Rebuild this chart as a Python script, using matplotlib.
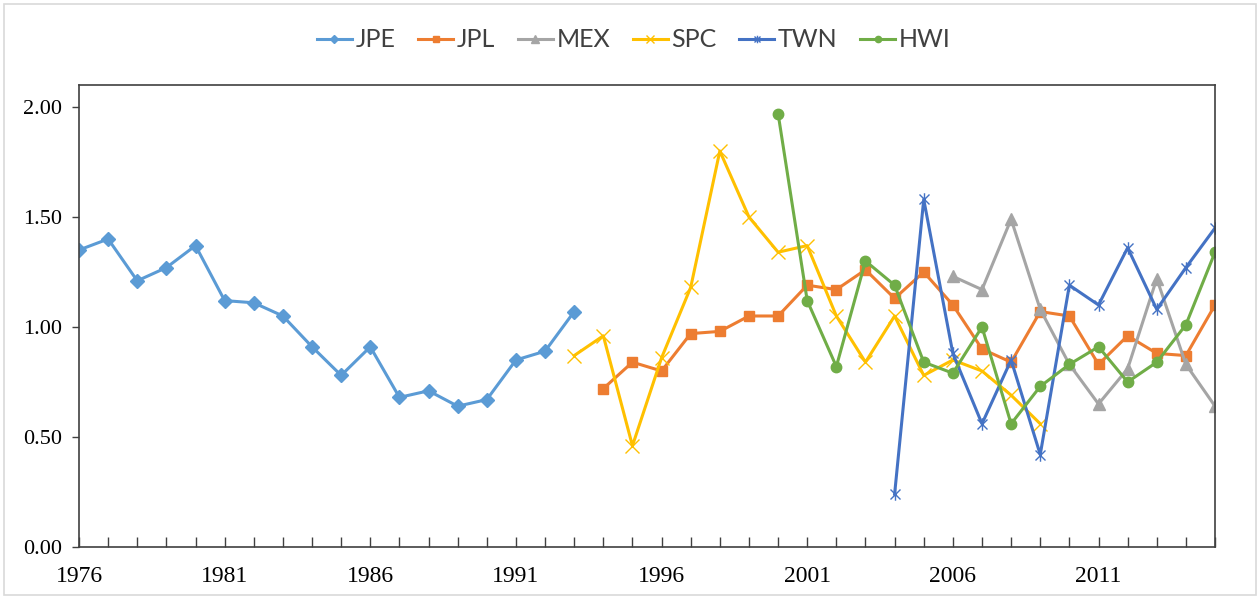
import matplotlib
matplotlib.use("Agg")
import matplotlib.pyplot as plt
from matplotlib.path import Path
import numpy as np

# ---- data ----
jpe_years = list(range(1976, 1994))
jpe = [1.35, 1.40, 1.21, 1.27, 1.37, 1.12, 1.11, 1.05, 0.91, 0.78, 0.91, 0.68,
       0.71, 0.64, 0.67, 0.85, 0.89, 1.07]

jpl_years = list(range(1994, 2016))
jpl = [0.72, 0.84, 0.80, 0.97, 0.98, 1.05, 1.05, 1.19, 1.17, 1.26, 1.13, 1.25,
       1.10, 0.90, 0.84, 1.07, 1.05, 0.83, 0.96, 0.88, 0.87, 1.10]

mex_years = list(range(2006, 2016))
mex = [1.23, 1.17, 1.49, 1.08, 0.83, 0.65, 0.81, 1.22, 0.83, 0.64]

spc_years = list(range(1993, 2010))
spc = [0.87, 0.96, 0.46, 0.86, 1.18, 1.80, 1.50, 1.34, 1.37, 1.05, 0.84, 1.05,
       0.78, 0.85, 0.80, 0.69, 0.56]

twn_years = list(range(2004, 2016))
twn = [0.24, 1.58, 0.88, 0.56, 0.85, 0.42, 1.19, 1.10, 1.36, 1.08, 1.27, 1.45]

hwi_years = list(range(2000, 2016))
hwi = [1.97, 1.12, 0.82, 1.30, 1.19, 0.84, 0.79, 1.00, 0.56, 0.73, 0.83, 0.91,
       0.75, 0.84, 1.01, 1.34]

x_labels = [1976, 1981, 1986, 1991, 1996, 2001, 2006, 2011]
y_ticks = [0.0, 0.5, 1.0, 1.5, 2.0]

# ---- style ----
star = Path([(-1, -1), (1, 1), (-1, 1), (1, -1), (0, -1.25), (0, 1.25)],
            [Path.MOVETO, Path.LINETO, Path.MOVETO, Path.LINETO, Path.MOVETO, Path.LINETO])

fig = plt.figure(figsize=(12.6, 5.97), dpi=100)
fig.patch.set_facecolor("white")
ax = fig.add_axes([0.0627, 0.0838, 0.9016, 0.7738])

series = [
    ("JPE", jpe_years, jpe, "#5B9BD5", "D", 7.5, {}),
    ("JPL", jpl_years, jpl, "#ED7D31", "s", 7.5, {}),
    ("MEX", mex_years, mex, "#A5A5A5", "^", 8.5, {}),
    ("SPC", spc_years, spc, "#FFC000", "x", 10, {"markeredgewidth": 1.0}),
    ("TWN", twn_years, twn, "#4472C4", star, 9, {"markeredgewidth": 1.0}),
    ("HWI", hwi_years, hwi, "#70AD47", "o", 7.5, {}),
]

handles = []
for name, xs, ys, c, m, ms, kw in series:
    h, = ax.plot(xs, ys, color=c, lw=2.2, marker=m, markersize=ms,
                 markerfacecolor=c, markeredgecolor=c, label=name, **kw)
    handles.append(h)

ax.set_xlim(1976, 2015)
ax.set_ylim(0, 2.1)
ax.set_yticks(y_ticks)
ax.set_yticklabels([f"{v:.2f}" for v in y_ticks])
ax.set_xticks(range(1976, 2016))
ax.set_xticklabels([str(y) if y in x_labels else "" for y in range(1976, 2016)])

for s in ax.spines.values():
    s.set_color("#404040")
    s.set_linewidth(1.2)

serif = "Liberation Serif"
ax.tick_params(axis="x", direction="in", length=7, width=1, color="#404040",
               pad=14, labelsize=17)
ax.tick_params(axis="y", direction="out", length=5, width=1, color="#404040",
               pad=7, labelsize=16)
for lab in ax.get_xticklabels() + ax.get_yticklabels():
    lab.set_fontfamily(serif)
    lab.set_color("black")

leg = fig.legend(handles=handles, loc="center", bbox_to_anchor=(0.503, 0.933),
                 ncol=6, frameon=False, prop={"family": "Lato", "size": 18},
                 handlelength=1.4, handletextpad=0.15, columnspacing=0.9,
                 markerscale=0.6)
for t in leg.get_texts():
    t.set_color("#404040")

# light outer frame
fig.add_artist(plt.Rectangle((0.003, 0.003), 0.994, 0.99, transform=fig.transFigure,
                             fill=False, edgecolor="#d9d9d9", lw=1.2))

fig.savefig("out.png", dpi=100, facecolor="white")
